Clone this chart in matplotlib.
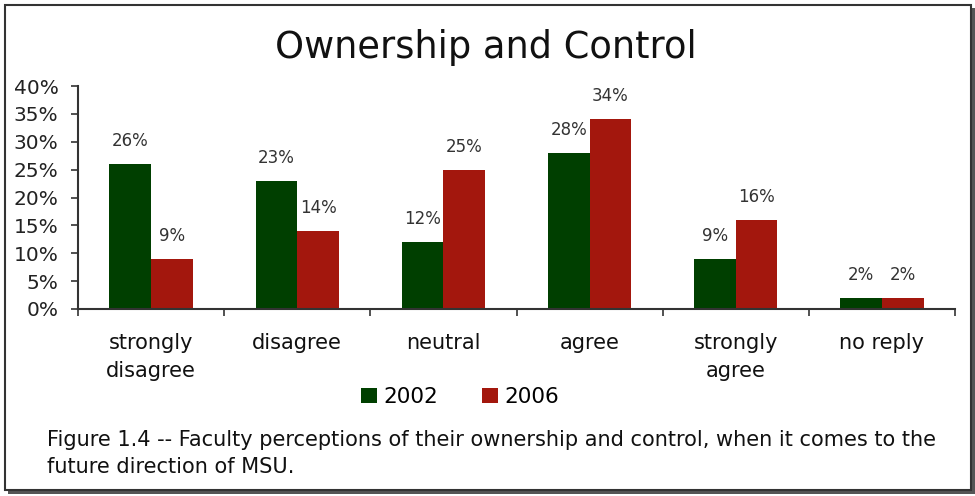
import numpy as np
import matplotlib.pyplot as plt
from matplotlib.patches import Rectangle

categories = ['strongly\ndisagree', 'disagree', 'neutral', 'agree', 'strongly\nagree', 'no reply']
years = ['2002', '2006']
vals_2002 = [26, 23, 12, 28, 9, 2]
vals_2006 = [9, 14, 25, 34, 16, 2]
yticks = [0, 5, 10, 15, 20, 25, 30, 35, 40]

green = '#003f00'
red = '#a3170d'

plt.rcParams['font.family'] = ['DejaVu Sans']

fig = plt.figure(figsize=(9.75, 4.96), dpi=100)
ax = fig.add_axes([78 / 975, 1 - 309 / 496, 877 / 975, 223 / 496])

x = np.arange(len(categories))
w = 0.285
b1 = ax.bar(x - w / 2, vals_2002, w, color=green, label=years[0])
b2 = ax.bar(x + w / 2, vals_2006, w, color=red, label=years[1])

for bars, vals in [(b1, vals_2002), (b2, vals_2006)]:
    for r, v in zip(bars, vals):
        ax.annotate(f'{v}%', (r.get_x() + r.get_width() / 2, v),
                    xytext=(0, 14), textcoords='offset pixels',
                    ha='center', va='bottom', fontsize=12, color='#333333')

ax.set_xlim(-0.5, len(categories) - 0.5)
ax.set_ylim(0, 40)
ax.set_yticks(yticks)
ax.set_yticklabels([f'{t}%' for t in yticks], fontsize=14.5, color='#222222')
ax.set_xticks(np.arange(len(categories) + 1) - 0.5)
ax.set_xticklabels([])
ax.tick_params(axis='both', direction='out', length=5, width=1.2, color='#333333')
ax.tick_params(axis='y', pad=9)
for s in ['top', 'right']:
    ax.spines[s].set_visible(False)
for s in ['left', 'bottom']:
    ax.spines[s].set_color('#333333')
    ax.spines[s].set_linewidth(1.5)

for i, c in enumerate(categories):
    ax.text(i, -4.3, c, ha='center', va='top', fontsize=15,
            color='#111111', linespacing=1.5)

fig.text(486 / 975, 1 - 48 / 496, 'Ownership and Control', ha='center',
         va='center', fontsize=26.5, color='#111111')

leg = fig.legend(handles=[b1, b2], loc='center', bbox_to_anchor=(460 / 975, 1 - 397 / 496),
                 ncol=2, frameon=False, fontsize=15.5, handlelength=0.75,
                 handleheight=0.75, handletextpad=0.3, columnspacing=2.0)

fig.text(47 / 975, 1 - 440 / 496,
         'Figure 1.4 -- Faculty perceptions of their ownership and control, when it comes to the',
         ha='left', va='center', fontsize=15, color='#111111')
fig.text(47 / 975, 1 - 467 / 496, 'future direction of MSU.',
         ha='left', va='center', fontsize=15, color='#111111')

# frame with a small drop shadow
fig.patches.append(Rectangle((8 / 975, 1 - 494 / 496), 967 / 975, 486 / 496,
                             transform=fig.transFigure, facecolor='#555555',
                             edgecolor='none', zorder=-2))
fig.patches.append(Rectangle((5 / 975, 1 - 490 / 496), 966 / 975, 485 / 496,
                             transform=fig.transFigure, facecolor='white',
                             edgecolor='#333333', linewidth=1.5, zorder=-1))

fig.savefig('out.png', dpi=100)
